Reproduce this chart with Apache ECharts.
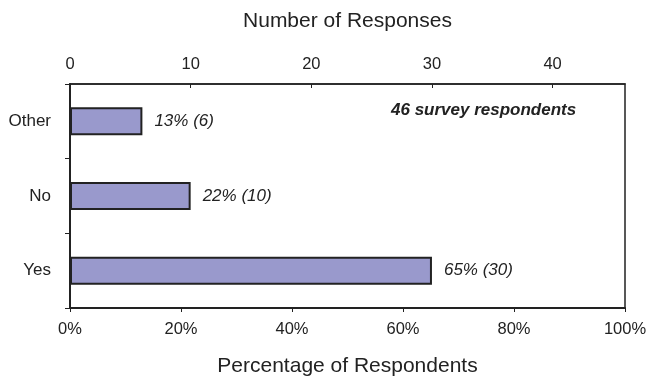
<!DOCTYPE html>
<html>
<head>
<meta charset="utf-8">
<style>
  html, body { margin: 0; padding: 0; background: #fff; }
  #chart { width: 647px; height: 379px; }
</style>
<script src="https://cdn.jsdelivr.net/npm/echarts@6/dist/echarts.min.js"></script>
</head>
<body>
<div id="chart"></div>
<script>
// Survey answers, top to bottom
const categories = ['Other', 'No', 'Yes'];
// Number of respondents giving each answer
const responseCounts = [6, 10, 30];
// Everyone who answered the survey
const totalRespondents = 46;
// Tick settings for the two horizontal axes
const countTickStep = 10;
const percentTicks = [0, 20, 40, 60, 80, 100];

const FONT = "'Liberation Sans', Arial, sans-serif";
const INK = '#222';

const chart = echarts.init(document.getElementById('chart'), null, { renderer: 'canvas' });

chart.setOption({
  animation: false,
  backgroundColor: '#fff',
  textStyle: { fontFamily: FONT, color: INK },
  grid: {
    left: 70, right: 22, top: 84, bottom: 71,
    outerBoundsMode: 'none',
    containLabel: false,
    show: true, borderColor: INK, borderWidth: 1.5, backgroundColor: 'transparent'
  },
  xAxis: [
    {
      // counts, drawn along the top
      type: 'value',
      position: 'top',
      min: 0,
      max: totalRespondents,
      interval: countTickStep,
      name: 'Number of Responses',
      nameLocation: 'middle',
      nameGap: 52,
      nameTextStyle: { fontSize: 21, color: INK, fontFamily: FONT },
      axisLine: { show: true, lineStyle: { color: INK, width: 1.5 } },
      axisTick: { show: true, inside: true, length: 4, lineStyle: { color: INK, width: 1 } },
      axisLabel: { showMaxLabel: false, margin: 11, fontSize: 16.5, color: INK, fontFamily: FONT },
      splitLine: { show: false }
    },
    {
      // share of all respondents, drawn along the bottom
      type: 'value',
      position: 'bottom',
      min: percentTicks[0],
      max: percentTicks[percentTicks.length - 1],
      interval: percentTicks[1] - percentTicks[0],
      name: 'Percentage of Respondents',
      nameLocation: 'middle',
      nameGap: 48,
      nameTextStyle: { fontSize: 21, color: INK, fontFamily: FONT },
      axisLine: { show: true, lineStyle: { color: INK, width: 2 } },
      axisTick: { show: true, inside: false, length: 4, lineStyle: { color: INK, width: 1 } },
      axisLabel: { formatter: '{value}%', margin: 13, fontSize: 16.5, color: INK, fontFamily: FONT },
      splitLine: { show: false }
    }
  ],
  yAxis: {
    type: 'category',
    data: categories,
    inverse: true,
    axisLine: { show: true, lineStyle: { color: INK, width: 2 } },
    axisTick: { show: true, inside: false, length: 5, lineStyle: { color: INK, width: 1 } },
    axisLabel: { margin: 19, fontSize: 17, color: INK, fontFamily: FONT },
    splitLine: { show: false }
  },
  series: [
    {
      type: 'bar',
      xAxisIndex: 0,
      data: responseCounts,
      barWidth: 28,
      itemStyle: { color: '#9999cc', borderColor: INK, borderWidth: 2 },
      label: {
        show: true,
        position: 'right',
        distance: 12,
        fontSize: 17,
        fontStyle: 'italic',
        color: INK,
        fontFamily: FONT,
        formatter: p => Math.round(p.value / totalRespondents * 100) + '% (' + p.value + ')'
      }
    }
  ],
  graphic: [
    {
      type: 'text',
      left: 391,
      top: 102,
      style: {
        text: totalRespondents + ' survey respondents',
        font: "italic bold 17px 'Liberation Sans', Arial, sans-serif",
        fill: INK
      }
    }
  ]
});
</script>
</body>
</html>
